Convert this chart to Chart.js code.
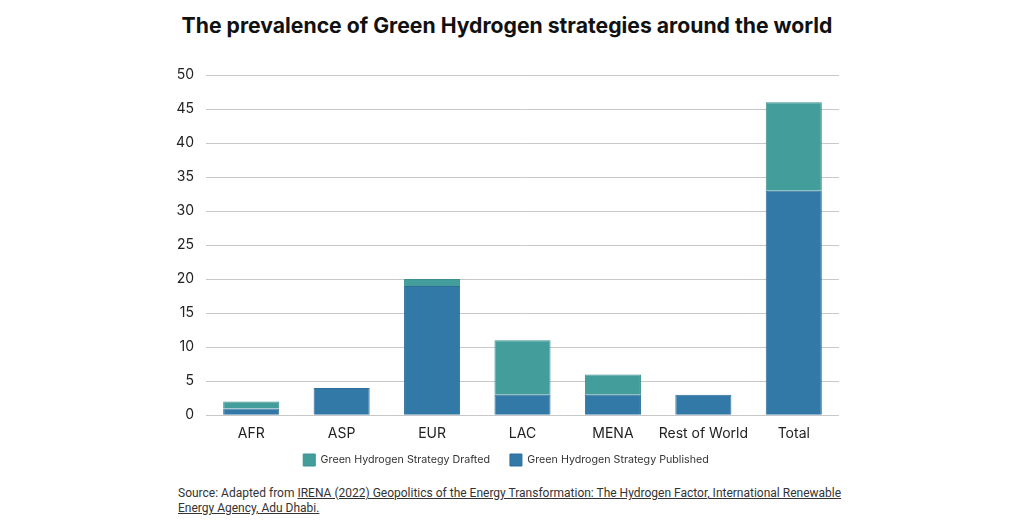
<!DOCTYPE html>
<html>
<head>
<meta charset="utf-8">
<script src="https://cdn.jsdelivr.net/npm/chart.js@4"></script>
<style>
  html, body { margin: 0; padding: 0; background: #fff; }
  #wrap { position: relative; width: 1024px; height: 529px; }
  #title {
    position: absolute; left: 0; top: 12px; width: 1014px; text-align: center;
    font-family: Inter, sans-serif; font-weight: bold; font-size: 21.2px; color: #111;
  }
  #chart-box { position: absolute; left: 0; top: 0; width: 1024px; height: 484px; }
  #source {
    position: absolute; left: 178px; top: 486px; width: 668px;
    font-family: Roboto, "Liberation Sans", sans-serif; font-size: 12px;
    line-height: 15px; color: #333;
  }
  #source u { text-decoration: underline; }
</style>
</head>
<body>
<div id="wrap">
  <div id="title">The prevalence of Green Hydrogen strategies around the world</div>
  <div id="chart-box"><canvas id="mainChart"></canvas></div>
  <div id="source">Source: Adapted from <u>IRENA (2022) Geopolitics of the Energy Transformation: The Hydrogen Factor, International Renewable Energy Agency, Adu Dhabi.</u></div>
</div>
<script>
// --- Data ---
const regions = ['AFR', 'ASP', 'EUR', 'LAC', 'MENA', 'Rest of World', 'Total'];
const published = [1, 4, 19, 3, 3, 3, 33];
const drafted = [1, 0, 1, 8, 3, 0, 13];
const yTicks = [0, 5, 10, 15, 20, 25, 30, 35, 40, 45, 50];

const colPublished = '#3379a8';
const colDrafted = '#439e9b';

// nudge the legend a bit (right and up), like the original
const legendShift = {
    id: 'legendShift',
    afterLayout(chart) {
        if (!chart.legend) return;
        chart.legend.left += 6;
        chart.legend.right += 6;
        chart.legend.top -= 10;
        chart.legend.bottom -= 10;
    }
};

// --- Chart ---
const ctx = document.getElementById('mainChart').getContext('2d');
new Chart(ctx, {
    type: 'bar',
    data: {
        labels: regions,
        datasets: [
            {
                label: 'Green Hydrogen Strategy Published',
                data: published,
                backgroundColor: colPublished,
                borderColor: '#2f6f99',
                borderWidth: 1
            },
            {
                label: 'Green Hydrogen Strategy Drafted',
                data: drafted,
                backgroundColor: colDrafted,
                borderColor: '#3c918e',
                borderWidth: 1
            }
        ]
    },
    plugins: [legendShift],
    options: {
        responsive: true,
        maintainAspectRatio: false,
        animation: false,
        datasets: { bar: { categoryPercentage: 1, barPercentage: 0.62 } },
        layout: { padding: { left: 161, right: 185, top: 75, bottom: 0 } },
        plugins: {
            title: { display: false },
            legend: {
                position: 'bottom',
                reverse: true,
                maxHeight: 40,
                labels: {
                    color: '#333',
                    font: { family: 'Inter', size: 10.7 },
                    boxWidth: 12,
                    boxHeight: 12,
                    padding: 20
                }
            },
            tooltip: { enabled: false }
        },
        scales: {
            x: {
                stacked: true,
                grid: { display: false },
                border: { display: false },
                ticks: {
                    color: '#222', font: { family: 'Inter', size: 14 }, padding: 2,
                    maxRotation: 0, minRotation: 0, autoSkip: false
                }
            },
            y: {
                stacked: true,
                min: 0,
                max: 50,
                afterFit: scale => { scale.width = 45; },
                afterBuildTicks: scale => { scale.ticks = yTicks.map(v => ({ value: v })); },
                grid: { color: '#c8c8c8', lineWidth: 1, drawTicks: false },
                border: { display: false },
                ticks: { color: '#222', font: { family: 'Inter', size: 14 }, padding: 12 }
            }
        }
    }
});
</script>
</body>
</html>
